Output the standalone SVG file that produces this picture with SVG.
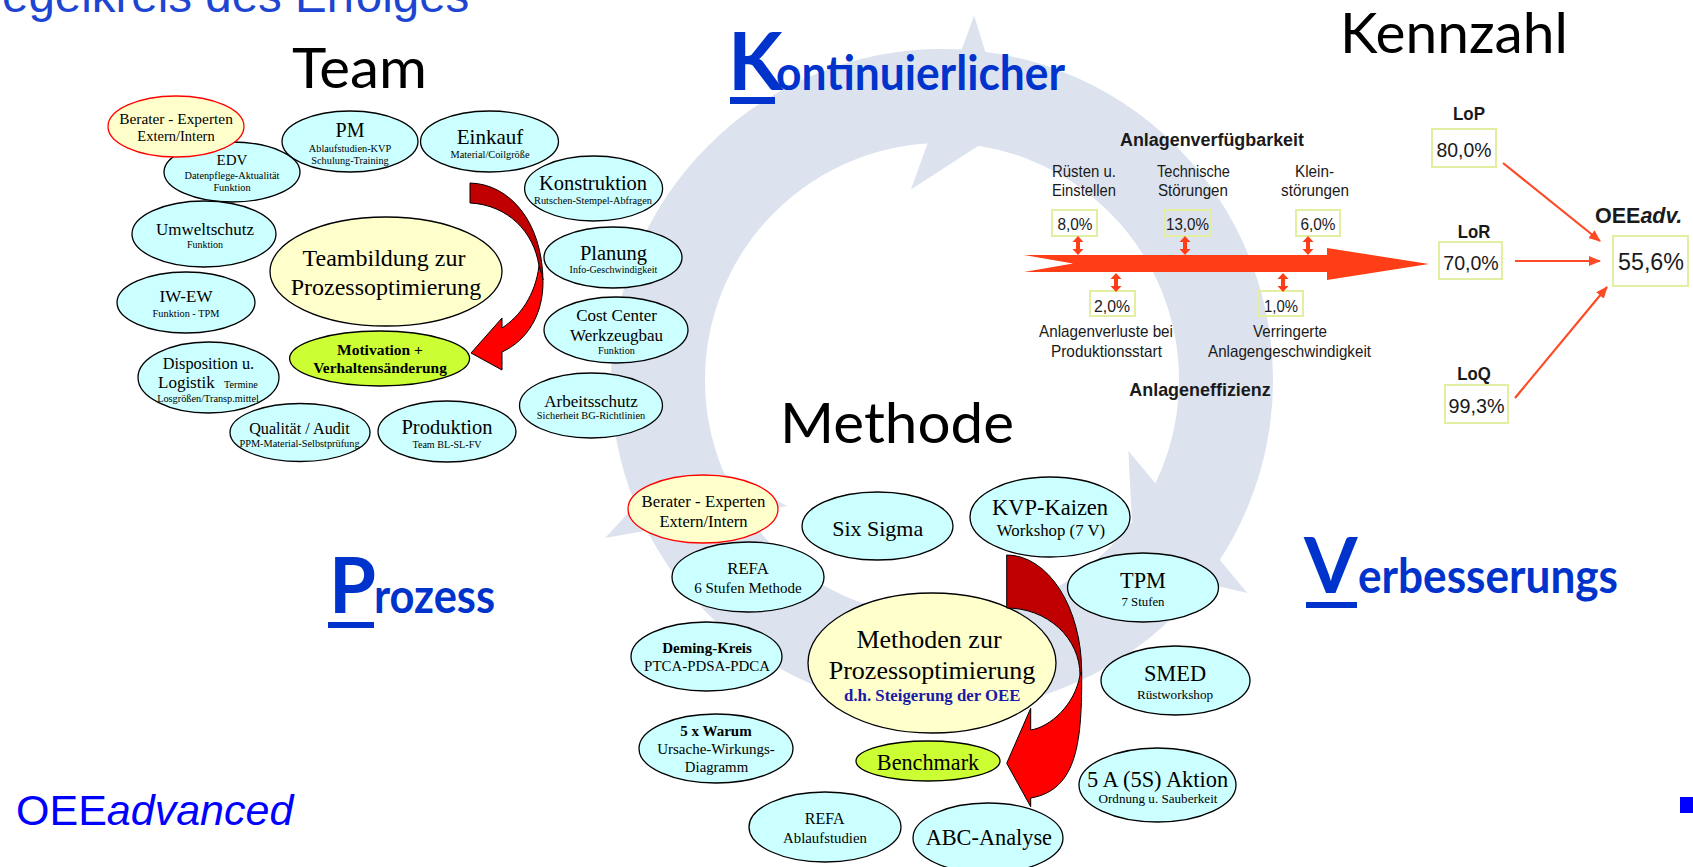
<svg xmlns="http://www.w3.org/2000/svg" width="1693" height="867" viewBox="0 0 1693 867">
<defs>
<style>
.el{fill:#ccffff;stroke:#000;stroke-width:1.3}
.adv{fill:#ffffcc;stroke:#ff0000;stroke-width:1.3}
.core{fill:#ffffcc;stroke:#000;stroke-width:1.3}
.lime{fill:#ccff33;stroke:#000;stroke-width:1.3}
.s{font-family:"Liberation Serif","Times New Roman",serif;fill:#000;text-anchor:middle}
.b{font-weight:bold}
.h{font-family:Lato,"Liberation Sans",sans-serif;fill:#000}
.kw{font-family:Lato,"Liberation Sans",sans-serif;font-weight:bold;fill:#0033cc}
.c{font-family:"Liberation Sans",Arial,sans-serif;fill:#1a1a1a;text-anchor:middle}
.box{fill:none;stroke:#e4eea0;stroke-width:2}
.dark{fill:#c00000;stroke:#000;stroke-width:1}
.bright{fill:#ff0000;stroke:#000;stroke-width:1}
.flow{fill:#ff3d17}
.link{stroke:#ff4a26;stroke-width:2.2;fill:none}
</style>
<marker id="ah" markerUnits="userSpaceOnUse" markerWidth="12" markerHeight="10" refX="11" refY="5" orient="auto"><path d="M0,0 L12,5 L0,10 z" fill="#ff4a26"/></marker>
<path id="dbl" d="M0,0 L5.5,6 L2,6 L2,13 L5.5,13 L0,19 L-5.5,13 L-2,13 L-2,6 L-5.5,6 Z" fill="#ff3d17"/>
</defs>
<rect width="1693" height="867" fill="#fff"/>

<!-- background cycle ring with three arrowheads -->
<g id="cycle" fill="#dce3ef">
<circle cx="942" cy="380" r="284" fill="none" stroke="#dce3ef" stroke-width="94"/>
<polygon points="974.1,15.6 1008.3,126.4 910.9,189.4"/>
<polygon points="1247.4,592.9 1134.3,567 1128.4,451.1"/>
<polygon points="605,538.1 683.9,453.1 787.2,505.9"/>
</g>

<!-- headings -->
<g id="headings">
<text x="2" y="12" font-family="Liberation Sans, Arial, sans-serif" font-size="47.5" fill="#1e45d2">egelkreis des Erfolges</text>
<text class="h" x="292" y="88" font-size="56" textLength="135" lengthAdjust="spacingAndGlyphs">Team</text>
<text class="h" x="1340" y="53" font-size="56" textLength="228" lengthAdjust="spacingAndGlyphs">Kennzahl</text>
<text class="h" x="780" y="443" font-size="56" textLength="234" lengthAdjust="spacingAndGlyphs">Methode</text>
<text class="kw" x="728" y="90" font-size="80">K</text>
<text class="kw" x="776" y="90" font-size="47" textLength="289" lengthAdjust="spacingAndGlyphs">ontinuierlicher</text>
<rect x="730" y="97" width="45" height="7" fill="#0033cc"/>
<text class="kw" x="329" y="613" font-size="76">P</text>
<text class="kw" x="374" y="613" font-size="47" textLength="121" lengthAdjust="spacingAndGlyphs">rozess</text>
<rect x="328" y="622" width="46" height="6" fill="#0033cc"/>
<text class="kw" x="1304" y="593" font-size="77">V</text>
<text class="kw" x="1358" y="593" font-size="47" textLength="260" lengthAdjust="spacingAndGlyphs">erbesserungs</text>
<rect x="1306" y="602" width="51" height="6" fill="#0033cc"/>
<text x="16" y="825" font-family="Liberation Sans, Arial, sans-serif" font-size="43" fill="#0000ff">OEE<tspan font-style="italic">advanced</tspan></text>
<rect x="1680" y="797" width="13" height="16" fill="#0000ff"/>
</g>

<!-- team cluster -->
<g id="team-edv"><ellipse class="el" cx="232" cy="172" rx="68" ry="30"/>
<text class="s" x="232" y="165" font-size="15">EDV</text>
<text class="s" x="232" y="179" font-size="10.3">Datenpflege-Aktualität</text>
<text class="s" x="232" y="191" font-size="10.3">Funktion</text></g>
<g id="team-berater"><ellipse class="adv" cx="176" cy="126.5" rx="68" ry="30.5"/>
<text class="s" x="176" y="124" font-size="15.4">Berater - Experten</text>
<text class="s" x="176" y="141" font-size="14.5">Extern/Intern</text></g>
<g id="team-pm"><ellipse class="el" cx="350" cy="141.5" rx="68" ry="30.5"/>
<text class="s" x="350" y="137" font-size="20">PM</text>
<text class="s" x="350" y="151.5" font-size="10.3">Ablaufstudien-KVP</text>
<text class="s" x="350" y="163.5" font-size="10.3">Schulung-Training</text></g>
<g id="team-einkauf"><ellipse class="el" cx="489.5" cy="141.5" rx="69" ry="30.5"/>
<text class="s" x="490" y="143.5" font-size="21">Einkauf</text>
<text class="s" x="490" y="157.7" font-size="10.3">Material/Coilgröße</text></g>
<g id="team-konstruktion"><ellipse class="el" cx="593.6" cy="188.5" rx="69" ry="32.5"/>
<text class="s" x="593" y="190" font-size="20.5">Konstruktion</text>
<text class="s" x="593" y="204.4" font-size="10.3">Rutschen-Stempel-Abfragen</text></g>
<g id="team-umweltschutz"><ellipse class="el" cx="204" cy="234" rx="72" ry="33"/>
<text class="s" x="205" y="234.6" font-size="17">Umweltschutz</text>
<text class="s" x="205" y="248.4" font-size="10">Funktion</text></g>
<g id="team-planung"><ellipse class="el" cx="613" cy="257.5" rx="69" ry="30.5"/>
<text class="s" x="613.5" y="260" font-size="20.5">Planung</text>
<text class="s" x="613.5" y="272.6" font-size="10">Info-Geschwindigkeit</text></g>
<g id="team-iwew"><ellipse class="el" cx="186" cy="302.5" rx="69" ry="30.5"/>
<text class="s" x="186" y="302" font-size="17">IW-EW</text>
<text class="s" x="186" y="316.7" font-size="10.3">Funktion - TPM</text></g>
<g id="team-costcenter"><ellipse class="el" cx="616" cy="330" rx="72" ry="33"/>
<text class="s" x="616.5" y="320.6" font-size="17">Cost Center</text>
<text class="s" x="616.5" y="340.6" font-size="17">Werkzeugbau</text>
<text class="s" x="616.5" y="354" font-size="10.2">Funktion</text></g>
<g id="team-disposition"><ellipse class="el" cx="208.5" cy="377.5" rx="70.5" ry="35.5"/>
<text class="s" x="208.5" y="368.7" font-size="16.3">Disposition u.</text>
<text class="s" x="158" y="388.4" font-size="17" style="text-anchor:start">Logistik</text>
<text class="s" x="224" y="388.4" font-size="10.2" style="text-anchor:start">Termine</text>
<text class="s" x="208" y="401.7" font-size="10.3">Losgrößen/Transp.mittel</text></g>
<g id="team-arbeitsschutz"><ellipse class="el" cx="591" cy="405.5" rx="71.5" ry="32.5"/>
<text class="s" x="591" y="406.7" font-size="17">Arbeitsschutz</text>
<text class="s" x="591" y="419.4" font-size="10.35">Sicherheit BG-Richtlinien</text></g>
<g id="team-qualitaet"><ellipse class="el" cx="300" cy="432.5" rx="70" ry="29"/>
<text class="s" x="299.5" y="433.7" font-size="16.2">Qualität / Audit</text>
<text class="s" x="299.5" y="447.4" font-size="10.3">PPM-Material-Selbstprüfung</text></g>
<g id="team-produktion"><ellipse class="el" cx="447" cy="431.5" rx="69" ry="30.5"/>
<text class="s" x="447" y="433.5" font-size="20.5">Produktion</text>
<text class="s" x="447" y="447.7" font-size="10.1">Team BL-SL-FV</text></g>
<g id="team-core"><ellipse class="core" cx="386" cy="271.5" rx="116" ry="54.5"/>
<text class="s" x="384" y="266.3" font-size="24">Teambildung zur</text>
<text class="s" x="386" y="294.7" font-size="24">Prozessoptimierung</text></g>
<g id="team-motivation"><ellipse class="lime" cx="379.6" cy="358.5" rx="90" ry="27.5"/>
<text class="s b" x="380" y="355" font-size="15.5">Motivation +</text>
<text class="s b" x="380" y="373.4" font-size="15.4">Verhaltensänderung</text></g>

<!-- method cluster -->
<g id="m-sixsigma"><ellipse class="el" cx="877.5" cy="526" rx="75.5" ry="34"/>
<text class="s" x="877.7" y="535.6" font-size="22">Six Sigma</text></g>
<g id="m-kvp"><ellipse class="el" cx="1050" cy="517" rx="80" ry="40"/>
<text class="s" x="1050" y="515" font-size="22.5">KVP-Kaizen</text>
<text class="s" x="1051" y="536.2" font-size="16.8">Workshop (7 V)</text></g>
<g id="m-tpm"><ellipse class="el" cx="1143" cy="587.5" rx="75.5" ry="34.5"/>
<text class="s" x="1143" y="588" font-size="22.3">TPM</text>
<text class="s" x="1143" y="606" font-size="12.8">7 Stufen</text></g>
<g id="m-refa6"><ellipse class="el" cx="748" cy="577" rx="76" ry="35"/>
<text class="s" x="748" y="573.8" font-size="16.7">REFA</text>
<text class="s" x="748" y="593.3" font-size="15">6 Stufen Methode</text></g>
<g id="m-berater"><ellipse class="adv" cx="703" cy="509" rx="75" ry="34"/>
<text class="s" x="703.5" y="507.2" font-size="16.8">Berater - Experten</text>
<text class="s" x="703.5" y="526.5" font-size="16.5">Extern/Intern</text></g>
<g id="m-deming"><ellipse class="el" cx="706.5" cy="656.5" rx="75.5" ry="34.5"/>
<text class="s b" x="707" y="653.3" font-size="15">Deming-Kreis</text>
<text class="s" x="707" y="671" font-size="14.9">PTCA-PDSA-PDCA</text></g>
<g id="m-smed"><ellipse class="el" cx="1175.5" cy="680.5" rx="74.5" ry="34.5"/>
<text class="s" x="1175" y="681.4" font-size="22.4">SMED</text>
<text class="s" x="1175" y="699.4" font-size="13.2">Rüstworkshop</text></g>
<g id="m-warum"><ellipse class="el" cx="716" cy="748.5" rx="77" ry="34.5"/>
<text class="s b" x="716" y="736" font-size="15">5 x Warum</text>
<text class="s" x="716" y="753.7" font-size="15">Ursache-Wirkungs-</text>
<text class="s" x="716.5" y="771.7" font-size="14.8">Diagramm</text></g>
<g id="m-core"><ellipse class="core" cx="932" cy="663" rx="124" ry="70"/>
<text class="s" x="929" y="647.6" font-size="26">Methoden zur</text>
<text class="s" x="932" y="679.3" font-size="26">Prozessoptimierung</text>
<text class="s b" x="932.3" y="701.2" font-size="16.8" style="fill:#1a1aa6">d.h. Steigerung der OEE</text></g>
<g id="m-benchmark"><ellipse class="lime" cx="928" cy="761" rx="72" ry="20"/>
<text class="s" x="928" y="770" font-size="22.2">Benchmark</text></g>
<g id="m-5s"><ellipse class="el" cx="1157.5" cy="785" rx="78.5" ry="37"/>
<text class="s" x="1157.5" y="786.7" font-size="22.4">5 A (5S) Aktion</text>
<text class="s" x="1158" y="803.3" font-size="13.1">Ordnung u. Sauberkeit</text></g>
<g id="m-refa-ablauf"><ellipse class="el" cx="825" cy="827" rx="76" ry="35"/>
<text class="s" x="824.7" y="824.3" font-size="16">REFA</text>
<text class="s" x="825" y="843.2" font-size="14.8">Ablaufstudien</text></g>
<g id="m-abc"><ellipse class="el" cx="988" cy="838" rx="75" ry="35"/>
<text class="s" x="988.8" y="845" font-size="22.3">ABC-Analyse</text></g>

<!-- OEE chart -->
<g id="oee-chart">
<text class="c" x="1212" y="146" font-size="18" font-weight="bold" textLength="184" lengthAdjust="spacingAndGlyphs">Anlagenverfügbarkeit</text>
<text class="c" x="1084" y="177" font-size="16.5" textLength="64" lengthAdjust="spacingAndGlyphs">Rüsten u.</text>
<text class="c" x="1084" y="196" font-size="16.5" textLength="64" lengthAdjust="spacingAndGlyphs">Einstellen</text>
<text class="c" x="1193.5" y="177" font-size="16.5" textLength="73" lengthAdjust="spacingAndGlyphs">Technische</text>
<text class="c" x="1193" y="196" font-size="16.5" textLength="70" lengthAdjust="spacingAndGlyphs">Störungen</text>
<text class="c" x="1314.5" y="177" font-size="16.5" textLength="39" lengthAdjust="spacingAndGlyphs">Klein-</text>
<text class="c" x="1315" y="196" font-size="16.5" textLength="68" lengthAdjust="spacingAndGlyphs">störungen</text>
<rect class="box" x="1052" y="210" width="45" height="26"/>
<rect class="box" x="1165" y="210" width="45" height="26"/>
<rect class="box" x="1296" y="210" width="44" height="26"/>
<rect class="box" x="1090" y="291" width="45" height="25"/>
<rect class="box" x="1259" y="291" width="44" height="25"/>
<text class="c" x="1075" y="230" font-size="17" textLength="35" lengthAdjust="spacingAndGlyphs">8,0%</text>
<text class="c" x="1187.5" y="230" font-size="17" textLength="43" lengthAdjust="spacingAndGlyphs">13,0%</text>
<text class="c" x="1318" y="230" font-size="17" textLength="35" lengthAdjust="spacingAndGlyphs">6,0%</text>
<text class="c" x="1112" y="311.5" font-size="17" textLength="36" lengthAdjust="spacingAndGlyphs">2,0%</text>
<text class="c" x="1281" y="311.5" font-size="17" textLength="34" lengthAdjust="spacingAndGlyphs">1,0%</text>
<text class="c" x="1106" y="337" font-size="16.5" textLength="134" lengthAdjust="spacingAndGlyphs">Anlagenverluste bei</text>
<text class="c" x="1106.5" y="357" font-size="16.5" textLength="111" lengthAdjust="spacingAndGlyphs">Produktionsstart</text>
<text class="c" x="1290" y="337" font-size="16.5" textLength="74" lengthAdjust="spacingAndGlyphs">Verringerte</text>
<text class="c" x="1289.5" y="357" font-size="16.5" textLength="163" lengthAdjust="spacingAndGlyphs">Anlagengeschwindigkeit</text>
<text class="c" x="1200" y="396" font-size="19" font-weight="bold" textLength="141.5" lengthAdjust="spacingAndGlyphs">Anlageneffizienz</text>
<text class="c" x="1469" y="120" font-size="19" font-weight="bold" textLength="32" lengthAdjust="spacingAndGlyphs">LoP</text>
<rect class="box" x="1432" y="129" width="64" height="38"/>
<text class="c" x="1464" y="157" font-size="21" textLength="55" lengthAdjust="spacingAndGlyphs">80,0%</text>
<text class="c" x="1474" y="238" font-size="19" font-weight="bold" textLength="32.5" lengthAdjust="spacingAndGlyphs">LoR</text>
<rect class="box" x="1439" y="242" width="63" height="37"/>
<text class="c" x="1471" y="269.5" font-size="21" textLength="55.5" lengthAdjust="spacingAndGlyphs">70,0%</text>
<text class="c" x="1474" y="380" font-size="19" font-weight="bold" textLength="33.5" lengthAdjust="spacingAndGlyphs">LoQ</text>
<rect class="box" x="1445" y="385" width="63" height="38"/>
<text class="c" x="1476.5" y="413" font-size="21" textLength="56" lengthAdjust="spacingAndGlyphs">99,3%</text>
<text x="1595" y="223" font-family="Liberation Sans, Arial, sans-serif" font-size="21.5" font-weight="bold" fill="#1a1a1a">OEE<tspan font-style="italic">adv.</tspan></text>
<rect class="box" x="1613" y="236" width="75" height="50"/>
<text class="c" x="1651" y="269.5" font-size="24" textLength="66" lengthAdjust="spacingAndGlyphs">55,6%</text>
</g>

<!-- connectors -->
<g id="connectors">
<path class="dark" d="M470,183 C510,184 542,222 543,280 L539,266 C534,232 508,205 470,203 Z"/>
<path class="bright" d="M539,266 C541,272 543,277 543,282 C543,314 528,340 502,352 L502,370 L471,353 L502,318 L502,328 C520,316 535,296 539,266 Z"/>
<path class="dark" d="M1006.7,555 A75,117 0 0 1 1081.7,672 L1080,675 A73.3,67 0 0 0 1006.7,608 Z"/>
<path class="bright" d="M1081.7,672 C1082,740 1078,790 1030.7,798 L1030.7,806.7 L1006.7,763.3 L1030.7,708.3 L1030.7,730 C1050,727 1075,705 1080,675 Z"/>
<polygon class="flow" points="1024,255 1327,255 1327,248 1429,264 1327,280 1327,272 1024,272 1073,263.5"/>
<use href="#dbl" x="1078" y="236"/>
<use href="#dbl" x="1185" y="236"/>
<use href="#dbl" x="1308" y="236"/>
<use href="#dbl" x="1116" y="273"/>
<use href="#dbl" x="1283" y="273"/>
<line class="link" x1="1503" y1="163" x2="1600" y2="241" marker-end="url(#ah)"/>
<line class="link" x1="1515" y1="261" x2="1600" y2="261" marker-end="url(#ah)"/>
<line class="link" x1="1515" y1="398" x2="1607" y2="287" marker-end="url(#ah)"/>
</g>
</svg>
